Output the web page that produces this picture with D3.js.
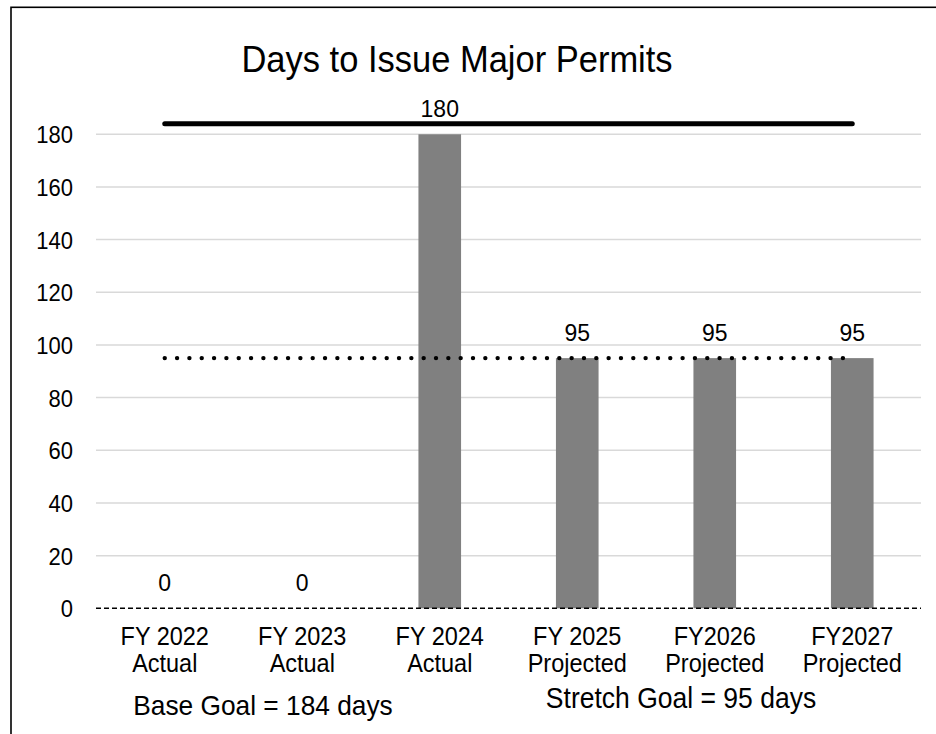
<!DOCTYPE html>
<html>
<head>
<meta charset="utf-8">
<script src="https://cdn.jsdelivr.net/npm/d3@7"></script>
<style>
  html, body { margin: 0; padding: 0; background: #fff; }
  svg { display: block; font-family: "Liberation Sans", Arial, sans-serif; }
</style>
</head>
<body>
<svg id="chart" width="936" height="734"></svg>
<script>
// ---- data ----
const categoryYears = ["FY 2022", "FY 2023", "FY 2024", "FY 2025", "FY2026", "FY2027"];
const categoryTypes = ["Actual", "Actual", "Actual", "Projected", "Projected", "Projected"];
const daysValues = [0, 0, 180, 95, 95, 95];
const baseGoal = [184, 184, 184, 184, 184, 184];
const stretchGoal = [95, 95, 95, 95, 95, 95];
const yTicks = [0, 20, 40, 60, 80, 100, 120, 140, 160, 180];
const titleText = "Days to Issue Major Permits";
const notes = ["Base Goal = 184 days", "Stretch Goal = 95 days"];

// ---- layout ----
const svg = d3.select("#chart");
const plot = { left: 96, right: 921, top: 81.6, bottom: 608.3 };
const SY = 1.08; // vertical stretch of glyphs seen in the reference

const x = d3.scaleBand()
  .domain(categoryYears)
  .range([plot.left, plot.right])
  .paddingInner(0.69)
  .paddingOuter(0.345);
const y = d3.scaleLinear().domain([0, 200]).range([plot.bottom, plot.top]);
const cx = d => x(d) + x.bandwidth() / 2;

function label(parent, tx, ty, size, str) {
  return parent.append("text")
    .attr("transform", `translate(${tx},${ty}) scale(1,${SY})`)
    .attr("text-anchor", "middle")
    .attr("font-size", size).attr("fill", "#000")
    .text(str);
}

// outer border (extends beyond the picture right/bottom)
svg.append("rect")
  .attr("x", 11).attr("y", 7.3)
  .attr("width", 1000).attr("height", 1000)
  .attr("fill", "none").attr("stroke", "#000").attr("stroke-width", 1.6);

// title
label(svg, 457, 71.5, 34.5, titleText);

// gridlines
svg.append("g").selectAll("line")
  .data(yTicks.filter(t => t > 0))
  .join("line")
  .attr("x1", plot.left).attr("x2", plot.right)
  .attr("y1", d => y(d)).attr("y2", d => y(d))
  .attr("stroke", "#d9d9d9").attr("stroke-width", 1.5);

// y axis (labels only)
const yAxis = d3.axisLeft(y).tickValues(yTicks).tickSize(0).tickPadding(0);
const gy = svg.append("g").attr("transform", "translate(73,0)").call(yAxis);
gy.select(".domain").remove();
gy.selectAll("text")
  .attr("font-family", "Liberation Sans, Arial, sans-serif")
  .attr("font-size", 22).attr("fill", "#000")
  .attr("dy", "0.36em")
  .attr("transform", `scale(1,${SY})`);

// bars
svg.append("g").selectAll("rect")
  .data(daysValues)
  .join("rect")
  .attr("x", (d, i) => x(categoryYears[i]))
  .attr("width", x.bandwidth())
  .attr("y", d => y(d))
  .attr("height", d => y(0) - y(d))
  .attr("fill", "#808080");

// zero axis line (dashed)
svg.append("line")
  .attr("x1", plot.left).attr("x2", plot.right)
  .attr("y1", y(0)).attr("y2", y(0))
  .attr("stroke", "#000").attr("stroke-width", 1.4)
  .attr("stroke-dasharray", "5,3");

// data labels
const dl = svg.append("g");
daysValues.forEach((d, i) => label(dl, cx(categoryYears[i]), y(d) - 17, 23, d));

// goal lines
const goalLine = d3.line()
  .x((d, i) => cx(categoryYears[i]))
  .y(d => y(d));

svg.append("path")
  .datum(baseGoal)
  .attr("d", goalLine)
  .attr("fill", "none").attr("stroke", "#000")
  .attr("stroke-width", 5).attr("stroke-linecap", "round");

svg.append("path")
  .datum(stretchGoal)
  .attr("d", goalLine)
  .attr("fill", "none").attr("stroke", "#000")
  .attr("stroke-width", 4.4).attr("stroke-linecap", "round")
  .attr("stroke-dasharray", "0,12.33");

// x category labels
const xl = svg.append("g");
categoryYears.forEach((c, i) => {
  label(xl, cx(c), 645, 23.5, c);
  label(xl, cx(c), 671.7, 23.5, categoryTypes[i]);
});

// notes
label(svg, 263, 715, 26.3, notes[0]);
label(svg, 681, 708, 26.5, notes[1]);
</script>
</body>
</html>
